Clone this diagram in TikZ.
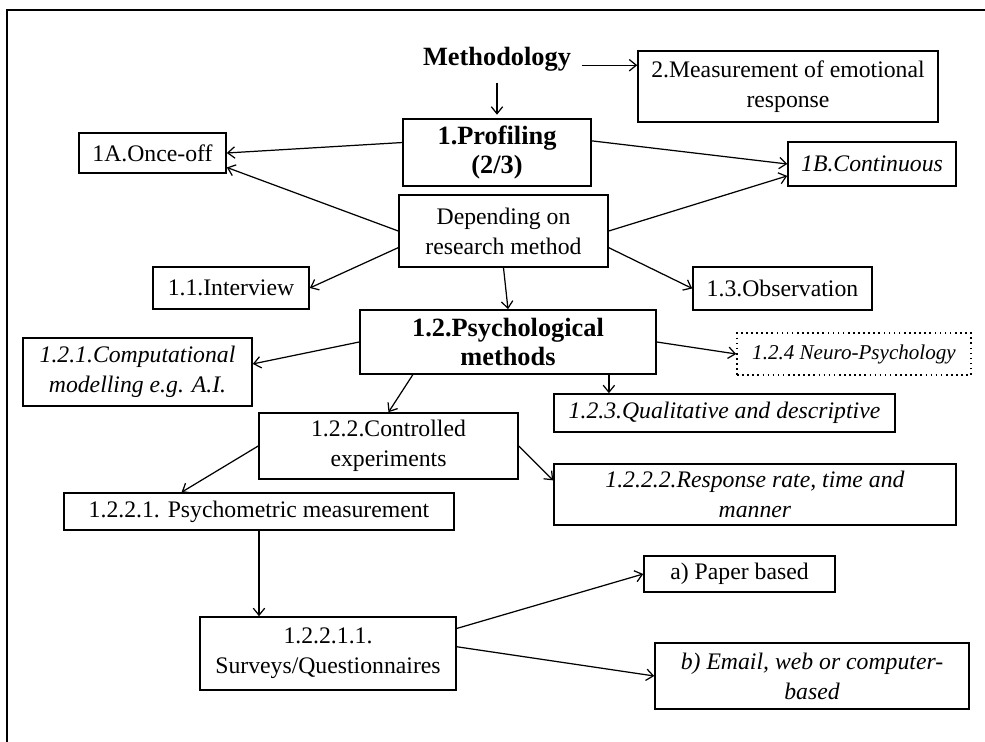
\documentclass[tikz,border=0pt]{standalone}
\usepackage{fontspec}
\setmainfont{Liberation Serif}
\usetikzlibrary{arrows.meta}
\begin{document}
\begin{tikzpicture}[x=0.02cm, y=-0.02cm,
  every node/.style={font=\fontsize{13.5}{17}\selectfont},
  box/.style={draw, line width=0.9pt, align=center, inner sep=1pt},
  big/.style={font=\fontsize{15}{17}\selectfont\bfseries},
  link/.style={-{Straight Barb[length=4pt,width=6.5pt]}, line width=0.7pt}]
  \useasboundingbox (0,0) rectangle (985,742);
  \draw[line width=1.3pt] (7,742) -- (7,10) -- (985,10);
  % top of the tree
  \node[big, align=center] (meth) at (497,59) {Methodology};
  \node[box, minimum width=6cm, minimum height=1.42cm] (meas) at (788,86.5) {2.Measurement of emotional\\response};
  \node[box, big, minimum width=3.76cm, minimum height=1.34cm] (prof) at (497,152.5) {1.Profiling\\(2/3)};
  \node[box, minimum width=2.94cm, minimum height=0.8cm] (once) at (152.5,153) {1A.Once-off};
  \node[box, minimum width=3.36cm, minimum height=0.88cm] (cont) at (872,164) {\textit{1B.Continuous}};
  \node[box, minimum width=4.18cm, minimum height=1.44cm] (dep) at (503.5,231) {Depending on\\research method};
  \node[box, minimum width=3.12cm, minimum height=0.84cm] (intv) at (231,288) {1.1.Interview};
  \node[box, minimum width=3.58cm, minimum height=0.86cm] (obs) at (782.5,288.5) {1.3.Observation};
  % psychological methods
  \node[box, big, minimum width=5.92cm, minimum height=1.28cm] (psych) at (508,342) {1.2.Psychological\\methods};
  \node[box, minimum width=4.58cm, minimum height=1.36cm] (comp) at (137.5,372) {\textit{1.2.1.Computational}\\\textit{modelling e.g. A.I.}};
  \node[box, dotted, font=\fontsize{12}{14}\selectfont\itshape, minimum width=4.68cm, minimum height=0.84cm] (neuro) at (854,354) {1.2.4 Neuro-Psychology};
  \node[box, minimum width=6.82cm, minimum height=0.76cm] (qual) at (724.5,413) {\textit{1.2.3.Qualitative and descriptive}};
  \node[box, minimum width=5.18cm, minimum height=1.32cm] (ctrl) at (388.5,446) {1.2.2.Controlled\\experiments};
  \node[box, minimum width=8.04cm, minimum height=1.22cm] (resp) at (755,494.5) {\textit{1.2.2.2.Response rate, time and}\\\textit{manner}};
  \node[box, minimum width=7.8cm, minimum height=0.74cm] (psym) at (259,511.5) {1.2.2.1. Psychometric measurement};
  \node[box, minimum width=5.12cm, minimum height=1.46cm] (surv) at (328,653.5) {1.2.2.1.1.\\Surveys/Questionnaires};
  \node[box, minimum width=3.82cm, minimum height=0.72cm] (paper) at (739.5,574) {a) Paper based};
  \node[box, minimum width=6.28cm, minimum height=1.32cm] (email) at (812,676) {\textit{b) Email, web or computer-}\\\textit{based}};
  % arrows
  \draw[link, shorten <=3pt, shorten >=2pt] (meth.south) -- (prof.north);
  \draw[link] ([xshift=3pt]meth.base east) -- (meth.base east -| meas.west);
  \draw[link] (prof.174) -- (once.east);
  \draw[link] (prof.7) -- (cont.west);
  \draw[link] (dep.west) -- (once.-11);
  \draw[link] (dep.east) -- (cont.188);
  \draw[link] (dep.189) -- (intv.east);
  \draw[link] (dep.-9) -- (obs.west);
  \draw[link] (dep.south) -- (psych.north);
  \draw[link] (psych.west) -- (comp.4);
  \draw[link] (psych.east) -- (neuro.west);
  \draw[link] (psych.-18) -- (psych.-18 |- qual.north);
  \draw[link] (psych.199) -- (ctrl.north);
  \draw[link] (ctrl.west) -- (psym.166);
  \draw[link] (ctrl.east) -- (resp.176);
  \draw[link] (psym.south) -- (psym.south |- surv.north);
  \draw[link] (surv.11) -- (paper.west);
  \draw[link] (surv.3) -- (email.west);
\end{tikzpicture}
\end{document}
